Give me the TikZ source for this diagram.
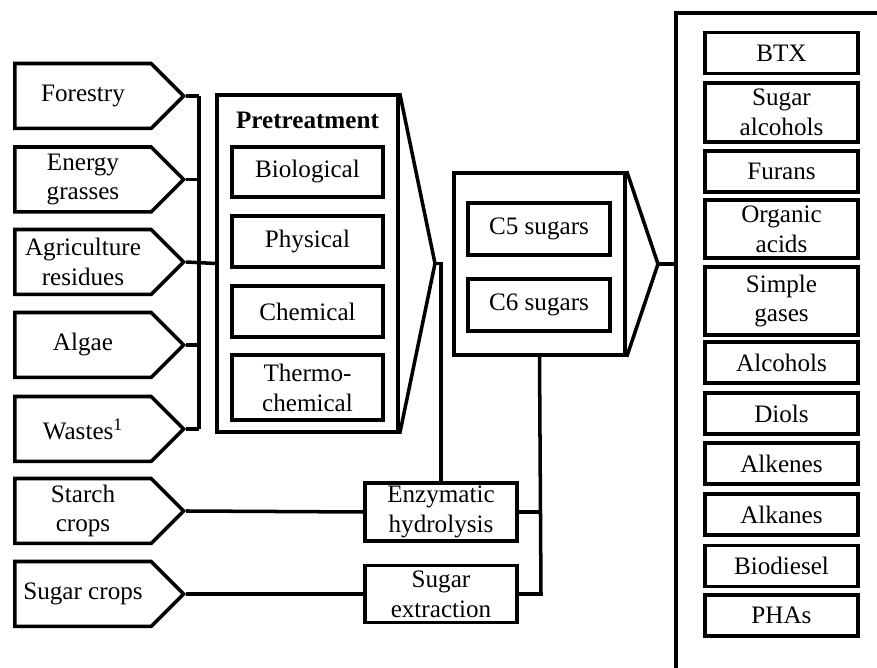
\documentclass[tikz,border=0pt]{standalone}
\usepackage{fontspec}
\setmainfont{Liberation Serif}
\usetikzlibrary{positioning}
\usetikzlibrary{shapes.symbols}

\begin{document}
\begin{tikzpicture}[x=0.02cm, y=-0.02cm, line width=2pt,
    every node/.style={font=\fontsize{14.3}{17}\selectfont, align=center, inner sep=1pt},
    source/.style={draw, signal, signal to=east, signal pointer angle=90,
      minimum width=3.38cm, minimum height=1.3cm, anchor=west},
    stage/.style={draw, rectangle, minimum width=3.02cm},
    product/.style={draw, rectangle, minimum width=3.06cm, minimum height=0.82cm}]
  \useasboundingbox (0,0) rectangle (877,668);

  \node[source] (forestry) at (13,96) {Forestry};
  \node[source] (energy) at (13,179.5) {Energy\\grasses};
  \node[source] (agri) at (13,262) {Agriculture\\residues};
  \node[source] (algae) at (13,345) {Algae};
  \node[source] (wastes) at (13,429) {Wastes\textsuperscript{1}};
  \node[source] (starch) at (13,511) {Starch\\crops};
  \node[source] (sugarcrops) at (13,594) {Sugar crops};

  \coordinate (bustop) at (199,96);
  \coordinate (busbot) at (199,429);
  \draw (bustop) -- (busbot);
  \foreach \src in {forestry,energy,algae,wastes}
    \draw (\src.east) -- (\src.east -| bustop);

  \node[draw, minimum width=3.62cm, minimum height=6.74cm] (pretreat) at (307.5,263.5) {};
  \coordinate (pretip) at (435,263.5);
  \draw (pretreat.north east) -- (pretip) -- (pretreat.south east);
  \node[font=\fontsize{14.3}{17}\selectfont\bfseries] (pretitle) at (307.5,120) {Pretreatment};
  \node[stage, minimum height=1.0cm] (bio) at (307.5,172) {Biological};
  \node[stage, minimum height=1.02cm] (phys) at (307.5,241.5) {Physical};
  \node[stage, minimum height=1.02cm] (chem) at (307.5,311.5) {Chemical};
  \node[stage, minimum height=1.3cm] (thermo) at (307.5,387.5) {Thermo-\\chemical};
  \draw (agri.east) -- (pretreat.west);

  \node[draw, minimum width=3.42cm, minimum height=3.64cm] (csugars) at (539.5,264) {};
  \coordinate (ctip) at (658,264);
  \draw (csugars.north east) -- (ctip) -- (csugars.south east);
  \node[stage, minimum width=2.84cm, minimum height=1.04cm] (c5) at (539,229) {C5 sugars};
  \node[stage, minimum width=2.84cm, minimum height=1.04cm] (c6) at (539,305) {C6 sugars};

  \node[stage, minimum width=3.04cm, minimum height=1.16cm] (enzy) at (441,512) {Enzymatic\\hydrolysis};
  \node[stage, minimum width=3.04cm, minimum height=1.14cm] (sugext) at (441,594) {Sugar\\extraction};
  \coordinate (join) at (541,594);
  \draw (pretip) -| (enzy.north);
  \draw (starch.east) -- (enzy.west);
  \draw (sugarcrops.east) -- (sugext.west);
  \draw (csugars.south) -- (join) -- (sugext.east);
  \draw (enzy.east) -- (enzy.east -| join);

  \coordinate (outtop) at (676,13);
  \draw (877,13) -- (outtop) -- (676,668);
  \draw (ctip) -- (ctip -| outtop);

  \node[product] (btx) at (781.5,53) {BTX};
  \node[product, minimum height=1.18cm] (sugalc) at (781.5,112.5) {Sugar\\alcohols};
  \node[product] (furans) at (781.5,171.5) {Furans};
  \node[product, minimum height=1.16cm] (orgacid) at (781.5,229) {Organic\\acids};
  \node[product, minimum height=1.36cm] (gases) at (781.5,301) {Simple\\gases};
  \node[product] (alcohols) at (781.5,362.5) {Alcohols};
  \node[product] (diols) at (781.5,413.5) {Diols};
  \node[product] (alkenes) at (781.5,463.5) {Alkenes};
  \node[product] (alkanes) at (781.5,514.5) {Alkanes};
  \node[product] (biodiesel) at (781.5,566) {Biodiesel};
  \node[product] (phas) at (781.5,615.5) {PHAs};
\end{tikzpicture}
\end{document}
